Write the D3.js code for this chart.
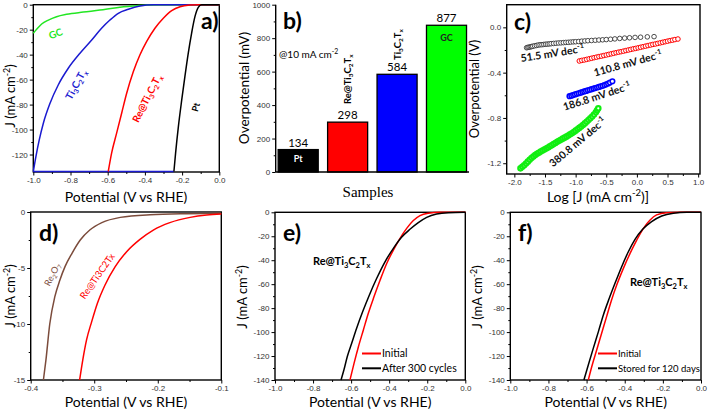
<!DOCTYPE html>
<html><head><meta charset="utf-8">
<script src="https://cdn.jsdelivr.net/npm/d3@7"></script>
<style>body{margin:0;background:#fff}</style>
</head><body><svg id="c" width="709" height="414" style="background:#fff"></svg>
<script>
// ---------------- DATA ----------------
// (a) LSV curves [potential V, J mA cm-2]
const aGC = [[-1.0,-22.9],[-0.982,-19.7],[-0.955,-15.5],[-0.919,-12.3],[-0.875,-9.6],[-0.821,-7.7],[-0.731,-5.9],[-0.642,-4.3],[-0.552,-2.4],[-0.462,-1.1],[-0.391,-0.3],[-0.32,0],[0,0]];
const aTi = [[-1.0,-133.6],[-0.986,-121.6],[-0.968,-108.3],[-0.946,-94.9],[-0.910,-78.9],[-0.866,-64.3],[-0.812,-50.9],[-0.749,-38.9],[-0.686,-28.3],[-0.633,-18.9],[-0.588,-12.3],[-0.543,-6.9],[-0.489,-3.7],[-0.427,-1.1],[-0.355,0],[0,0]];
const aTiFloor = [[-1.0,-133.6],[-0.245,-133.6]];
const aRe = [[-0.597,-133.6],[-0.579,-118.9],[-0.552,-102.9],[-0.525,-86.9],[-0.498,-70.9],[-0.462,-53.6],[-0.427,-40.3],[-0.391,-29.6],[-0.346,-18.9],[-0.301,-10.9],[-0.256,-4.8],[-0.211,-1.6],[-0.158,-0.3],[-0.104,0],[0,0]];
const aPt = [[-0.244,-133.6],[-0.235,-118.9],[-0.220,-97.6],[-0.202,-76.3],[-0.185,-57.6],[-0.167,-38.9],[-0.149,-22.9],[-0.131,-9.6],[-0.113,-2.1],[-0.095,0],[0,0]];

// (b) overpotential bars
const bSamples = ["Pt","Re@Ti3C2Tx","Ti3C2Tx","GC"];
const bValues = [134, 298, 584, 877];
const bColors = ["#000000","#ff0000","#0000ff","#00ff00"];
const bTicks = [0,200,400,600,800,1000];

// (c) Tafel plots: x = log J, y = overpotential (V)
const cBlackX = [-1.80,-1.78,-1.76,-1.74,-1.72,-1.70,-1.67,-1.64,-1.61,-1.58,-1.55,-1.52,-1.49,-1.46,-1.43,-1.40,-1.36,-1.32,-1.28,-1.24,-1.20,-1.16,-1.12,-1.08,-1.04,-1.00,-0.95,-0.90,-0.85,-0.80,-0.74,-0.68,-0.62,-0.56,-0.50,-0.43,-0.36,-0.28,-0.20,-0.12,-0.03,0.06,0.17,0.28];
const cBlackY = [-0.180,-0.177,-0.175,-0.172,-0.170,-0.167,-0.163,-0.160,-0.156,-0.154,-0.153,-0.151,-0.149,-0.148,-0.146,-0.144,-0.142,-0.140,-0.138,-0.137,-0.135,-0.133,-0.132,-0.130,-0.128,-0.127,-0.125,-0.122,-0.120,-0.118,-0.116,-0.114,-0.112,-0.110,-0.108,-0.105,-0.102,-0.098,-0.095,-0.092,-0.089,-0.087,-0.084,-0.082];
const cRedX = [-0.94,-0.90,-0.86,-0.82,-0.78,-0.74,-0.70,-0.66,-0.62,-0.58,-0.54,-0.50,-0.46,-0.42,-0.38,-0.34,-0.30,-0.26,-0.22,-0.18,-0.14,-0.10,-0.06,-0.02,0.02,0.06,0.10,0.14,0.18,0.22,0.26,0.30,0.34,0.38,0.42,0.46,0.50,0.54,0.58,0.62,0.67];
const cRedY = [-0.297,-0.292,-0.288,-0.283,-0.278,-0.273,-0.268,-0.263,-0.258,-0.254,-0.249,-0.244,-0.239,-0.234,-0.229,-0.224,-0.219,-0.215,-0.210,-0.205,-0.200,-0.195,-0.190,-0.186,-0.181,-0.176,-0.171,-0.166,-0.161,-0.156,-0.151,-0.147,-0.142,-0.137,-0.132,-0.127,-0.122,-0.117,-0.113,-0.108,-0.103];
const cBlueX = [-1.10,-1.07,-1.04,-1.01,-0.98,-0.95,-0.92,-0.89,-0.86,-0.83,-0.80,-0.77,-0.74,-0.71,-0.68,-0.65,-0.62,-0.59,-0.56,-0.53,-0.50,-0.47,-0.44,-0.40];
const cBlueY = [-0.608,-0.603,-0.598,-0.592,-0.587,-0.582,-0.577,-0.572,-0.566,-0.561,-0.556,-0.551,-0.546,-0.541,-0.536,-0.531,-0.526,-0.521,-0.516,-0.510,-0.503,-0.496,-0.488,-0.476];
const cGreenX = [-1.90,-1.87,-1.84,-1.81,-1.78,-1.75,-1.72,-1.69,-1.66,-1.63,-1.60,-1.57,-1.54,-1.51,-1.48,-1.45,-1.42,-1.39,-1.36,-1.33,-1.30,-1.27,-1.24,-1.21,-1.18,-1.15,-1.12,-1.09,-1.06,-1.03,-1.00,-0.97,-0.94,-0.91,-0.88,-0.85,-0.82,-0.79,-0.76,-0.73,-0.70,-0.67,-0.65,-0.63];
const cGreenY = [-1.245,-1.232,-1.218,-1.202,-1.186,-1.170,-1.154,-1.140,-1.128,-1.117,-1.107,-1.097,-1.088,-1.079,-1.070,-1.061,-1.051,-1.041,-1.031,-1.021,-1.011,-1.001,-0.992,-0.983,-0.974,-0.965,-0.955,-0.945,-0.935,-0.924,-0.912,-0.900,-0.888,-0.875,-0.862,-0.848,-0.834,-0.819,-0.803,-0.787,-0.770,-0.750,-0.732,-0.715];
const cSlopes = ["51.5","110.8","186.8","380.8"];

// (d) LSV zoom
const dRe2O7 = [[-0.380,-15],[-0.376,-13.2],[-0.370,-10.0],[-0.362,-7.56],[-0.354,-6.07],[-0.346,-4.88],[-0.335,-3.69],[-0.322,-2.5],[-0.307,-1.61],[-0.288,-0.95],[-0.259,-0.48],[-0.212,-0.24],[-0.154,-0.15],[-0.1,-0.12]];
const dReTi = [[-0.323,-15],[-0.318,-13.2],[-0.312,-11.4],[-0.304,-9.79],[-0.295,-8.15],[-0.283,-6.52],[-0.267,-4.88],[-0.249,-3.54],[-0.228,-2.44],[-0.207,-1.61],[-0.181,-0.95],[-0.149,-0.48],[-0.123,-0.27],[-0.1,-0.18]];

// (e) stability, 300 cycles
const eInitial = [[-0.606,-140],[-0.585,-126.3],[-0.562,-112.4],[-0.536,-98.4],[-0.510,-84.5],[-0.480,-70.6],[-0.448,-56.7],[-0.413,-42.7],[-0.378,-31.5],[-0.343,-21.7],[-0.308,-13.4],[-0.273,-6.9],[-0.238,-2.8],[-0.194,-0.8],[-0.133,0],[0,0]];
const eAfter = [[-0.653,-140],[-0.638,-131.7],[-0.620,-120.4],[-0.597,-109.3],[-0.571,-96.8],[-0.539,-82.9],[-0.504,-69],[-0.466,-55.3],[-0.422,-41.3],[-0.378,-30.1],[-0.335,-20.9],[-0.291,-14.2],[-0.247,-8.6],[-0.203,-4.2],[-0.151,-1.4],[-0.089,-0.3],[0,0]];
// (f) stability, 120 days
const fInitial = [[-0.591,-140],[-0.573,-128.9],[-0.547,-114.9],[-0.521,-101],[-0.495,-87.1],[-0.469,-73.2],[-0.442,-60.7],[-0.407,-46.8],[-0.372,-34.3],[-0.337,-23.2],[-0.302,-13.4],[-0.267,-6.4],[-0.233,-2.2],[-0.180,-0.3],[-0.110,0],[0,0]];
const fStored = [[-0.614,-140],[-0.591,-127.5],[-0.565,-113.6],[-0.538,-99.6],[-0.512,-85.7],[-0.481,-71.8],[-0.451,-59.3],[-0.416,-45.4],[-0.381,-32.9],[-0.346,-22.6],[-0.306,-14.2],[-0.259,-7.8],[-0.206,-3.1],[-0.145,-0.8],[-0.075,0],[0,0]];

// tick values
const ticksJ134 = [0,-20,-40,-60,-80,-100,-120];
const ticksJ140 = [0,-20,-40,-60,-80,-100,-120,-140];
const ticksV = [-1.0,-0.8,-0.6,-0.4,-0.2,0.0];
const ticksDx = [-0.4,-0.3,-0.2,-0.1];
const ticksDy = [0,-5,-10,-15];
const ticksCx = [-2.0,-1.5,-1.0,-0.5,0.0,0.5,1.0];
const ticksCy = [0.0,-0.4,-0.8,-1.2];

// ---------------- DRAWING ----------------
const svg = d3.select("#c");
const FONT = "Lato, 'Open Sans', sans-serif";
const TFONT = "'Liberation Sans', Arial, sans-serif";
const f1 = d => d.toFixed(1);
const f0 = d => String(d);

function rich(parent, x, y, rot, parts, o) {
  const t = parent.append("text")
    .attr("transform", `translate(${x},${y}) rotate(${rot})`)
    .attr("text-anchor", o.anchor || "middle")
    .attr("font-size", o.size).attr("font-weight", o.weight || "normal")
    .attr("fill", o.fill || "#000").attr("font-family", o.family || FONT);
  let shift = 0;
  parts.forEach(p => {
    const s = typeof p === "string" ? {t: p} : p;
    const target = s.sup ? -0.42 * o.size : s.sub ? 0.25 * o.size : 0;
    const ts = t.append("tspan").text(s.t);
    if (target - shift !== 0) ts.attr("dy", target - shift);
    if (s.sup || s.sub) ts.attr("font-size", o.size * 0.68);
    shift = target;
  });
  return t;
}
const TI = ["Ti",{t:"3",sub:1},"C",{t:"2",sub:1},"T",{t:"x",sub:1}];
const RETI = ["Re@"].concat(TI);
const JTITLE = ["J (mA cm",{t:"-2",sup:1},")"];

function styleAxis(g) {
  g.select(".domain").remove();
  g.selectAll("line").attr("stroke", "#000").attr("stroke-width", 1);
  g.selectAll("text").attr("font-size", 8).attr("fill", "#333").attr("font-family", TFONT);
}
function minorVals(major) {
  const out = [];
  for (let i = 0; i < major.length - 1; i++) out.push((major[i] + major[i+1]) / 2);
  return out;
}
function axes(g, x, y, xMaj, yMaj, xf, yf, frame) {
  const y0 = y.range()[0], x0 = x.range()[0];
  g.append("g").attr("transform", `translate(0,${y0})`)
    .call(d3.axisBottom(x).tickValues(minorVals(xMaj)).tickSize(2).tickFormat("")).call(styleAxis);
  g.append("g").attr("transform", `translate(0,${y0})`)
    .call(d3.axisBottom(x).tickValues(xMaj).tickSize(3.5).tickPadding(2).tickFormat(xf)).call(styleAxis);
  g.append("g").attr("transform", `translate(${x0},0)`)
    .call(d3.axisLeft(y).tickValues(minorVals(yMaj)).tickSize(2).tickFormat("")).call(styleAxis);
  g.append("g").attr("transform", `translate(${x0},0)`)
    .call(d3.axisLeft(y).tickValues(yMaj).tickSize(3.5).tickPadding(2).tickFormat(yf)).call(styleAxis);
  if (frame) {
    g.append("rect").attr("x", x.range()[0]).attr("y", y.range()[1])
      .attr("width", x.range()[1] - x.range()[0]).attr("height", y.range()[0] - y.range()[1])
      .attr("fill", "none").attr("stroke", "#000").attr("stroke-width", 1.4);
  }
}
function curve(g, x, y, data, color, w) {
  g.append("path").datum(data).attr("fill", "none").attr("stroke", color)
    .attr("stroke-width", w || 1.5).attr("stroke-linejoin", "round")
    .attr("d", d3.line().x(d => x(d[0])).y(d => y(d[1])).curve(d3.curveMonotoneX));
}
function panelLetter(g, x, y, s) {
  g.append("text").attr("x", x).attr("y", y).text(s).attr("font-size", 23)
    .attr("font-weight", "bold").attr("font-family", FONT).attr("fill", "#000");
}
function xTitle(g, x, y, parts) { rich(g, x, y, 0, parts, {size: 14}); }
function yTitle(g, x, y, parts) { rich(g, x, y, -90, parts, {size: 13}); }

// ---- panel a ----
{
  const g = svg.append("g");
  const x = d3.scaleLinear().domain([-1.0, 0.0]).range([33.3, 219.3]);
  const y = d3.scaleLinear().domain([-134, 0]).range([172, 4.7]);
  axes(g, x, y, ticksV, ticksJ134, f1, f0, true);
  curve(g, x, y, aTiFloor, "#1a1ad0", 1.6);
  curve(g, x, y, aGC, "#22e622");
  curve(g, x, y, aTi, "#1a1ad0");
  curve(g, x, y, aRe, "#ff0000");
  curve(g, x, y, aPt, "#000000");
  panelLetter(g, 201, 29, "a)");
  rich(g, 57, 37, -22, ["GC"], {size: 10, weight: "bold", fill: "#22e622"});
  rich(g, 79, 86, -62, TI, {size: 10, weight: "bold", fill: "#1a1ad0"});
  rich(g, 150, 100, -63, RETI, {size: 10, weight: "bold", fill: "#ff0000"});
  rich(g, 199, 108, -75, ["Pt"], {size: 9, weight: "bold", fill: "#000"});
  xTitle(g, 126, 202, ["Potential (V vs RHE)"]);
  yTitle(g, 15, 96, JTITLE);
}

// ---- panel b ----
{
  const g = svg.append("g");
  const x = d3.scaleBand().domain(bSamples).range([275.7, 469]).paddingInner(0.19).paddingOuter(0.05);
  const y = d3.scaleLinear().domain([0, 1000]).range([172, 4.7]);
  g.append("g").attr("transform", "translate(275.7,0)")
    .call(d3.axisLeft(y).tickValues(minorVals(bTicks)).tickSize(2).tickFormat("")).call(styleAxis);
  g.append("g").attr("transform", "translate(275.7,0)")
    .call(d3.axisLeft(y).tickValues(bTicks).tickSize(3.5).tickPadding(2).tickFormat(f0)).call(styleAxis);
  g.selectAll("rect.bar").data(bSamples).join("rect").attr("class", "bar")
    .attr("x", d => x(d)).attr("width", x.bandwidth())
    .attr("y", (d, i) => y(bValues[i])).attr("height", (d, i) => y(0) - y(bValues[i]))
    .attr("fill", (d, i) => bColors[i]).attr("stroke", "#000").attr("stroke-width", 1.3);
  g.append("line").attr("x1", 275.7).attr("x2", 275.7).attr("y1", 4.7).attr("y2", 172).attr("stroke", "#000").attr("stroke-width", 1.4);
  g.append("line").attr("x1", 275.7).attr("x2", 469).attr("y1", 172).attr("y2", 172).attr("stroke", "#000").attr("stroke-width", 1.4);
  g.selectAll("text.val").data(bSamples).join("text").attr("class", "val")
    .attr("x", d => x(d) + x.bandwidth() / 2).attr("y", (d, i) => y(bValues[i]) - 3)
    .attr("text-anchor", "middle").attr("font-size", 11.5).attr("font-family", FONT)
    .text((d, i) => bValues[i]);
  const cx = d => x(d) + x.bandwidth() / 2;
  rich(g, cx("Pt"), 162, 0, ["Pt"], {size: 9, weight: "bold", fill: "#fff"});
  rich(g, cx("GC"), 41, 0, ["GC"], {size: 9, weight: "bold", fill: "#222"});
  rich(g, cx("Re@Ti3C2Tx") + 3, 104, -90, RETI, {size: 9.5, weight: "bold", anchor: "start"});
  rich(g, cx("Ti3C2Tx") + 4, 60, -90, TI, {size: 9.5, weight: "bold", anchor: "start"});
  rich(g, 279, 58, 0, ["@10 mA cm",{t:"-2",sup:1}], {size: 10, anchor: "start"});
  panelLetter(g, 283, 29, "b)");
  rich(g, 249, 88, -90, ["Overpotential (mV)"], {size: 13.5});
  rich(g, 368, 197, 0, ["Samples"], {size: 15, family: "'Liberation Serif', 'Times New Roman', serif"});
}

// ---- panel c ----
{
  const g = svg.append("g");
  const x = d3.scaleLinear().domain([-2.125, 1.03]).range([506.7, 700]);
  const y = d3.scaleLinear().domain([-1.295, 0.2]).range([174, 4.7]);
  const minX = minorVals(ticksCx), minY = [-0.2, -0.6, -1.0];
  g.append("g").attr("transform", `translate(0,174)`)
    .call(d3.axisBottom(x).tickValues(minX).tickSize(2).tickFormat("")).call(styleAxis);
  g.append("g").attr("transform", `translate(0,174)`)
    .call(d3.axisBottom(x).tickValues(ticksCx).tickSize(3.5).tickPadding(2).tickFormat(f1)).call(styleAxis);
  g.append("g").attr("transform", `translate(506.7,0)`)
    .call(d3.axisLeft(y).tickValues(minY).tickSize(2).tickFormat("")).call(styleAxis);
  g.append("g").attr("transform", `translate(506.7,0)`)
    .call(d3.axisLeft(y).tickValues(ticksCy).tickSize(3.5).tickPadding(2).tickFormat(f1)).call(styleAxis);
  g.append("rect").attr("x", 506.7).attr("y", 4.7).attr("width", 700 - 506.7).attr("height", 174 - 4.7)
    .attr("fill", "none").attr("stroke", "#000").attr("stroke-width", 1.4);
  function scatter(xs, ys, color, r, sw) {
    g.append("g").selectAll("circle").data(xs).join("circle")
      .attr("cx", d => x(d)).attr("cy", (d, i) => y(ys[i])).attr("r", r)
      .attr("fill", "#fff").attr("stroke", color).attr("stroke-width", sw);
  }
  scatter(cBlackX, cBlackY, "#222", 2.3, 0.8);
  scatter(cRedX, cRedY, "#ff0000", 2.3, 1);
  scatter(cBlueX, cBlueY, "#0000ff", 2.3, 1.6);
  scatter(cGreenX, cGreenY, "#11ee11", 2.2, 2.2);
  const dec = s => [s + " mV dec", {t:"-1", sup:1}];
  rich(g, 553, 57, -9, dec(cSlopes[0]), {size: 10.5, weight: "bold", fill: "#111"});
  rich(g, 629, 67, -15.5, dec(cSlopes[1]), {size: 10.5, weight: "bold", fill: "#111"});
  rich(g, 598, 100, -18, dec(cSlopes[2]), {size: 10.5, weight: "bold", fill: "#111"});
  rich(g, 580, 145, -40, dec(cSlopes[3]), {size: 10.5, weight: "bold", fill: "#111"});
  panelLetter(g, 514, 30, "c)");
  rich(g, 479, 89, -90, ["Overpotential (V)"], {size: 13});
  rich(g, 598, 202, 0, ["Log [J (mA cm",{t:"-2",sup:1},")]"], {size: 14});
}

// ---- panel d ----
{
  const g = svg.append("g");
  const x = d3.scaleLinear().domain([-0.4, -0.1]).range([30.7, 221.3]);
  const y = d3.scaleLinear().domain([-15, 0]).range([380, 212]);
  axes(g, x, y, ticksDx, ticksDy, f1, f0, true);
  curve(g, x, y, dRe2O7, "#7b4b3b");
  curve(g, x, y, dReTi, "#ff0000");
  panelLetter(g, 39, 241, "d)");
  rich(g, 55, 276, -63, ["Re",{t:"2",sub:1},"O",{t:"7",sub:1}], {size: 9, fill: "#7b4b3b"});
  rich(g, 100, 278, -55, ["Re@Ti3C2Tx"], {size: 9.5, fill: "#ff0000"});
  xTitle(g, 126, 407, ["Potential (V vs RHE)"]);
  yTitle(g, 15, 296, JTITLE);
}

// ---- panels e & f ----
function stabPanel(x0, x1, letterX, d1, d2, names, legX, legFont, labX, labY, yTitleX) {
  const g = svg.append("g");
  const x = d3.scaleLinear().domain([-1.0, 0.0]).range([x0, x1]);
  const y = d3.scaleLinear().domain([-140, 0]).range([380, 212.3]);
  axes(g, x, y, ticksV, ticksJ140, f1, f0, true);
  curve(g, x, y, d1, "#ff0000");
  curve(g, x, y, d2, "#000000");
  panelLetter(g, letterX, 241, letterX < 400 ? "e)" : "f)");
  rich(g, labX, labY, 0, ["Re@Ti",{t:"3",sub:1},"C",{t:"2",sub:1},"T",{t:"x",sub:1}], {size: 11, weight: "bold", anchor: "start"});
  const ly = [353.5, 368.3], lc = ["#ff0000", "#000"];
  names.forEach((n, i) => {
    g.append("line").attr("x1", legX).attr("x2", legX + 19).attr("y1", ly[i]).attr("y2", ly[i])
      .attr("stroke", lc[i]).attr("stroke-width", 2);
    g.append("text").attr("x", legX + 20).attr("y", ly[i] + 3.6).text(n)
      .attr("font-size", legFont).attr("font-family", FONT).attr("fill", "#000");
  });
  xTitle(g, (x0 + x1) / 2, 407, ["Potential (V vs RHE)"]);
  yTitle(g, yTitleX, 297, JTITLE);
}
stabPanel(275, 465.3, 283, eInitial, eAfter, ["Initial", "After 300 cycles"], 362, 10.5, 313, 265, 247);
stabPanel(510.3, 701, 518, fInitial, fStored, ["Initial", "Stored for 120 days"], 598, 9.5, 630, 286, 482);
</script>
</body></html>
